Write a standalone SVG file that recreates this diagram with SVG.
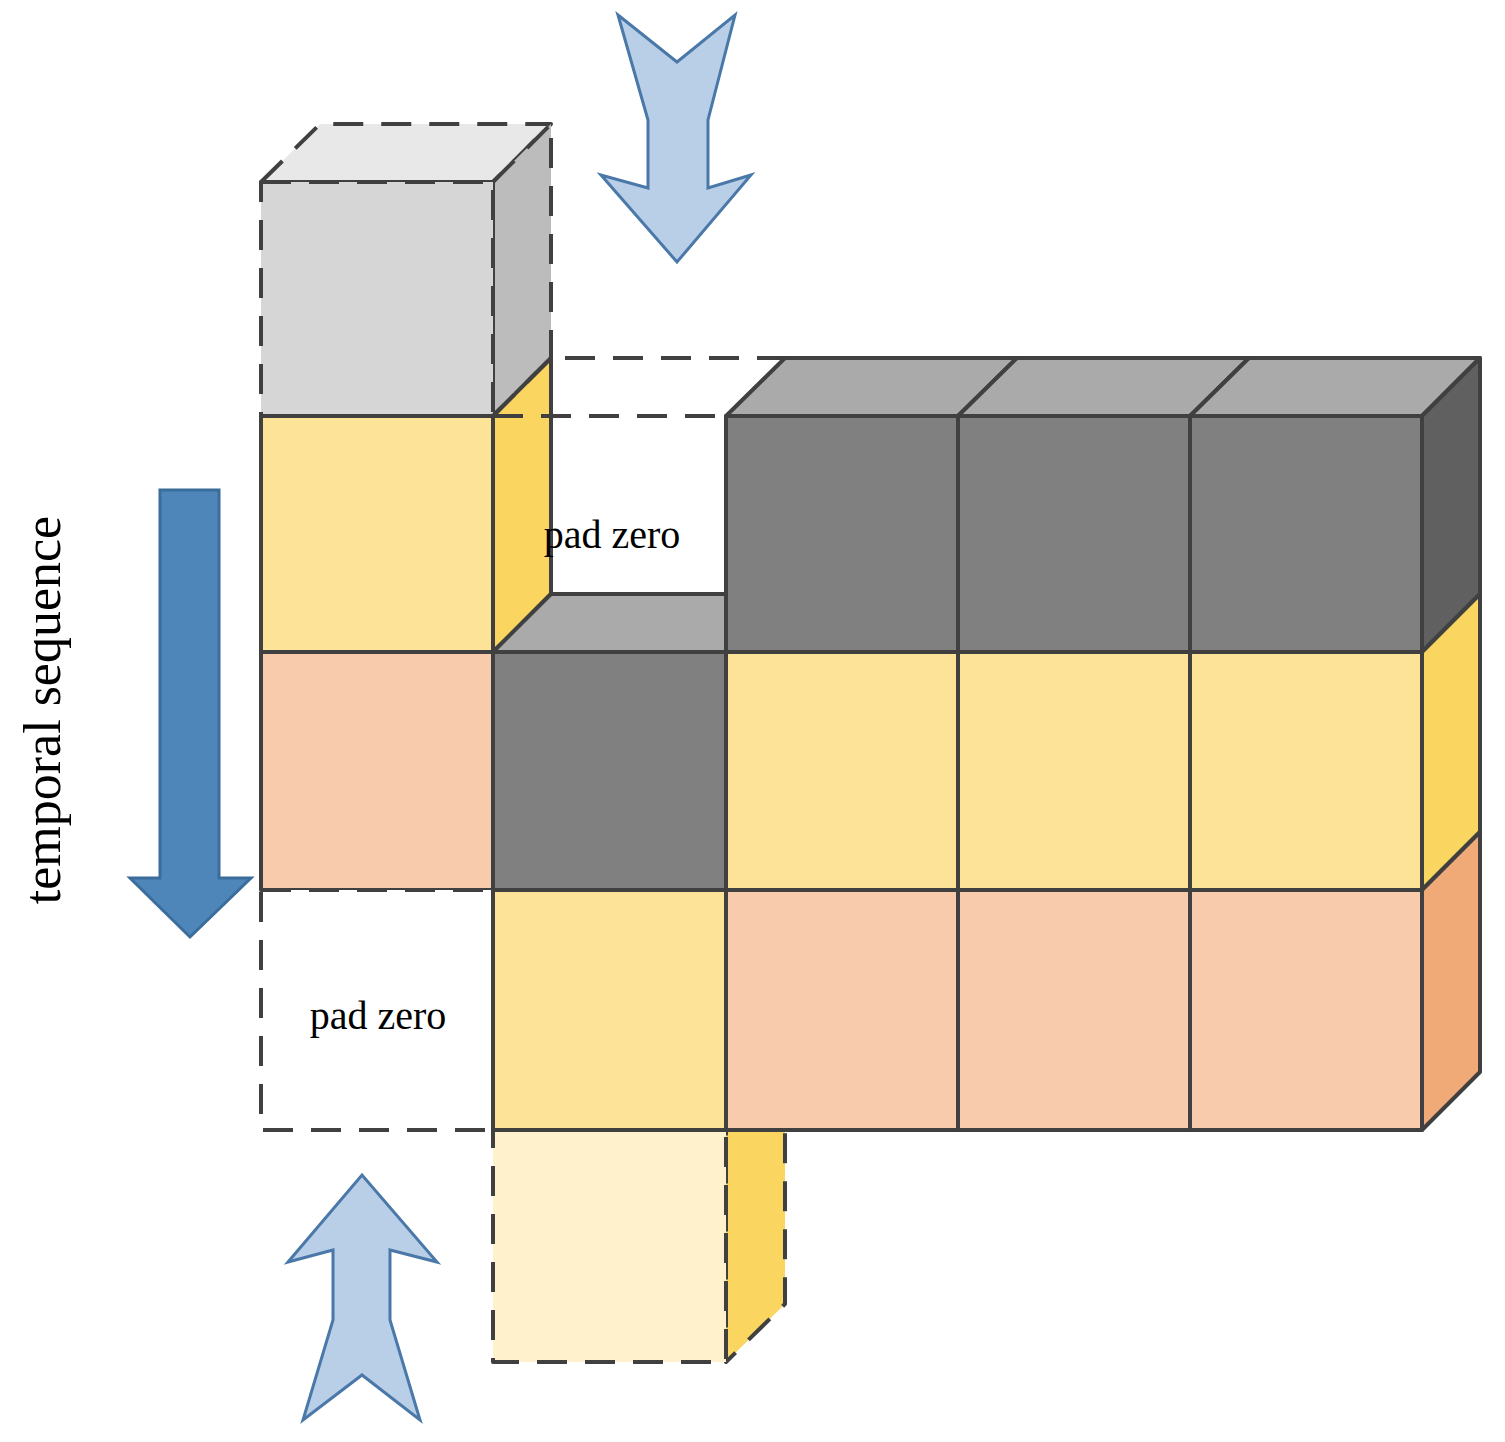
<svg xmlns="http://www.w3.org/2000/svg" width="1505" height="1442" viewBox="0 0 1505 1442">
<style>
.s{stroke:#404040;stroke-width:4;stroke-linejoin:round}
.d{stroke-dasharray:30,18}
.y{fill:#fde398}.ys{fill:#fad660}.p{fill:#f7cbac}.ps{fill:#f0aa78}
.g{fill:#808080}.gt{fill:#aaaaaa}.gs{fill:#606060}
.a{fill:#b9cfe8;stroke:#4a78a8;stroke-width:3}
.t{font-family:"Liberation Serif",serif;fill:#000}
</style>
<rect width="1505" height="1442" fill="#fff"/>
<g id="arrows">
<polygon class="a" points="618,15 677,62 735,15 708,120 708,188 751,175 677,262 601,175 648,188 648,120"/>
<polygon class="a" points="288,1262 362,1175 437,1262 390,1250 390,1320 420,1420 362,1375 303,1420 333,1320 333,1250"/>
<polygon points="160,490 219,490 219,878 251,878 190,937 130,878 160,878" fill="#4f86b9" stroke="#3a6d9c" stroke-width="3"/>
</g>
<g id="cube-gray-pad">
<polygon class="s d" points="261,182 320,124 551,124 493,182" fill="#e8e8e8"/>
<polygon class="s d" points="493,182 551,124 551,358 493,416" fill="#bcbcbc"/>
<rect class="s d" x="261" y="182" width="232" height="234" fill="#d6d6d6"/>
</g>
<g id="cube-yellow-r1">
<polygon class="s ys" points="493,416 551,358 551,594 493,652"/>
<rect class="s y" x="261" y="416" width="232" height="236"/>
</g>
<g id="pad-top">
<polyline class="s d" points="493,416 551,358 785,358" fill="none"/>
<line class="s d" x1="493" y1="416" x2="726" y2="416"/>
<polygon class="s gt" points="493,652 551,594 726,594 726,652"/>
<line class="s d" x1="493" y1="652" x2="726" y2="652"/>
<text class="t" x="612" y="548" font-size="40" text-anchor="middle">pad zero</text>
</g>
<g id="row1-dark">
<polygon class="s gt" points="726,416 785,358 1017,358 958,416"/>
<polygon class="s gt" points="958,416 1017,358 1249,358 1190,416"/>
<polygon class="s gt" points="1190,416 1249,358 1480,358 1422,416"/>
<polygon class="s gs" points="1422,416 1480,358 1480,594 1422,652"/>
<rect class="s g" x="726" y="416" width="232" height="236"/>
<rect class="s g" x="958" y="416" width="232" height="236"/>
<rect class="s g" x="1190" y="416" width="232" height="236"/>
</g>
<g id="row2">
<polygon class="s ys" points="1422,652 1480,594 1480,832 1422,890"/>
<rect class="s p" x="261" y="652" width="232" height="238"/>
<rect class="s g" x="493" y="652" width="233" height="238"/>
<rect class="s y" x="726" y="652" width="232" height="238"/>
<rect class="s y" x="958" y="652" width="232" height="238"/>
<rect class="s y" x="1190" y="652" width="232" height="238"/>
</g>
<g id="row4-pad">
<polygon class="s d ys" points="726,1130 785,1072 785,1304 726,1362"/>
<rect class="s d" x="493" y="1130" width="233" height="232" fill="#fef1cc"/>
</g>
<g id="row3">
<polygon class="s ps" points="1422,890 1480,832 1480,1072 1422,1130"/>
<rect class="s d" x="261" y="890" width="232" height="240" fill="#fff"/>
<text class="t" x="378" y="1029" font-size="40" text-anchor="middle">pad zero</text>
<rect class="s y" x="493" y="890" width="233" height="240"/>
<rect class="s p" x="726" y="890" width="232" height="240"/>
<rect class="s p" x="958" y="890" width="232" height="240"/>
<rect class="s p" x="1190" y="890" width="232" height="240"/>
</g>
<text class="t" transform="translate(60,710) rotate(-90)" font-size="52" text-anchor="middle">temporal sequence</text>
</svg>
